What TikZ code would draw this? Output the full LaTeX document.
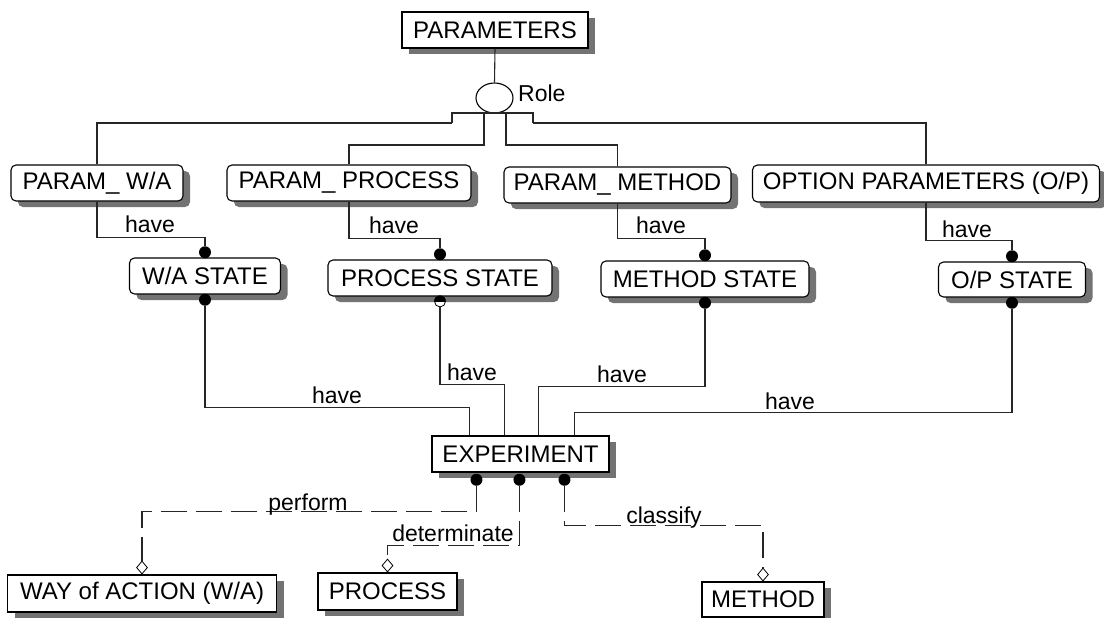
\documentclass[tikz,border=0pt]{standalone}
\usepackage{fontspec}
\setmainfont{Liberation Sans}
\usetikzlibrary{shadows,shapes.geometric,calc}
\begin{document}
\begin{tikzpicture}[x=1pt,y=-1pt,
  box/.style={draw=black, line width=1.1pt, fill=white, font=\fontsize{24}{26}\selectfont, inner sep=0pt,
    drop shadow={shadow xshift=7pt, shadow yshift=-6pt, fill=black!55, opacity=1}},
  rbox/.style={box, rounded corners=5pt},
  conn/.style={draw=black!85, line width=1.1pt},
  dashconn/.style={conn, dash pattern=on 26pt off 9pt},
  lbl/.style={font=\fontsize{23}{25}\selectfont, inner sep=0pt, anchor=base},
  dot/.style={circle, fill=black, inner sep=0pt, minimum size=12pt},
  dia/.style={diamond, draw=black, fill=white, line width=0.8pt, inner sep=0pt, minimum width=11pt, minimum height=13pt, anchor=south}
]
\useasboundingbox (0,0) rectangle (1104,618);

% boxes
\node[box, minimum width=186pt, minimum height=36pt] (params) at (495,30) {PARAMETERS};
\node[ellipse, draw=black, line width=1.1pt, fill=white, minimum width=37pt, minimum height=30pt, inner sep=0pt] (role) at (494.5,98) {};
\node[lbl, anchor=base west] (rolel) at (518,102) {Role};

\node[rbox, minimum width=172pt, minimum height=36pt] (pwa) at (97,183) {PARAM\_{} W/A};
\node[rbox, minimum width=244pt, minimum height=36pt] (pproc) at (349,183) {PARAM\_{} PROCESS};
\node[rbox, minimum width=227pt, minimum height=36pt] (pmeth) at (617.5,185) {PARAM\_{} METHOD};
\node[rbox, minimum width=347pt, minimum height=37pt] (popt) at (926,183.5) {OPTION PARAMETERS (O/P)};

\node[rbox, minimum width=151pt, minimum height=36pt] (swa) at (205,276) {W/A STATE};
\node[rbox, minimum width=224pt, minimum height=36pt] (sproc) at (440,278) {PROCESS STATE};
\node[rbox, minimum width=208pt, minimum height=36pt] (smeth) at (705,279) {METHOD STATE};
\node[rbox, minimum width=147pt, minimum height=35pt] (sopt) at (1012,279.5) {O/P STATE};

\node[box, minimum width=177pt, minimum height=36pt] (exp) at (520.5,454) {EXPERIMENT};

\node[box, minimum width=269pt, minimum height=37pt] (way) at (142,593.5) {WAY of ACTION (W/A)};
\node[box, minimum width=139pt, minimum height=37pt] (proc) at (387.5,591.5) {PROCESS};
\node[box, minimum width=122pt, minimum height=35pt] (meth) at (763,599.5) {METHOD};

% role hierarchy
\draw[conn] (params.south) -- (role.north);
\coordinate (bl) at (452,123);
\coordinate (br) at (533,123);
\coordinate (bm1) at (484,113);
\coordinate (bm2) at (506,113);
\draw[conn] (bl) |- (bm1) -- (bm2) -| (br);
\draw[conn] (bl) -| (pwa.north);
\draw[conn] (br) -| (popt.north);
\draw[conn] (bm1) -- ++(0,32) -| (pproc.north);
\draw[conn] (bm2) -- ++(0,32) -| (pmeth.north);

% dots on state boxes
\node[dot, anchor=south] (dwa1) at ([yshift=-1pt]swa.north) {};
\node[dot, anchor=south] (dproc1) at ([yshift=-1pt]sproc.north) {};
\node[dot, anchor=south] (dmeth1) at ([yshift=-1pt]smeth.north) {};
\node[dot, anchor=south] (dopt1) at ([yshift=-1pt]sopt.north) {};
\node[dot, anchor=north] (dwa2) at ([yshift=1pt]swa.south) {};
\node[circle, draw=black, fill=white, line width=0.8pt, inner sep=0pt, minimum size=11pt, anchor=north] (dproc2) at ([yshift=1pt]sproc.south) {};
\begin{scope}
  \clip ($(dproc2.west)+(-2,0)$) rectangle ($(dproc2.north east)+(2,-2)$);
  \fill[black] (dproc2.center) circle (6pt);
\end{scope}
\node[dot, anchor=north] (dmeth2) at ([yshift=1pt]smeth.south) {};
\node[dot, anchor=north] (dopt2) at ([yshift=1pt]sopt.south) {};

% param -> state
\draw[conn] (pwa.south) -- ++(0,36) -| (dwa1);
\draw[conn] (pproc.south) -- ++(0,37) -| (dproc1);
\draw[conn] (pmeth.south) -- ++(0,35) -| (dmeth1);
\draw[conn] (popt.south) -- ++(0,38) -| (dopt1);
\node[lbl] (h1) at (150,232) {have};
\node[lbl] (h2) at (394,233) {have};
\node[lbl] (h3) at (661,233) {have};
\node[lbl] (h4) at (967,237) {have};

% state -> experiment
\coordinate (e1) at ($(exp.north west)+(38,0)$);
\coordinate (e2) at ($(exp.north west)+(73,0)$);
\coordinate (e3) at ($(exp.north west)+(107,0)$);
\coordinate (e4) at ($(exp.north west)+(143,0)$);
\draw[conn] (dwa2) |- ($(e1)+(0,-28)$) -- (e1);
\draw[conn] (dproc2) |- ($(e2)+(0,-51)$) -- (e2);
\draw[conn] (dmeth2) |- ($(e3)+(0,-49)$) -- (e3);
\draw[conn] (dopt2) |- ($(e4)+(0,-23)$) -- (e4);
\node[lbl] (h5) at (337,403) {have};
\node[lbl] (h6) at (472,380) {have};
\node[lbl] (h7) at (622,382) {have};
\node[lbl] (h8) at (790,409) {have};

% experiment -> bottom
\node[dot, anchor=north] (de1) at ($(exp.south west)+(45,1)$) {};
\node[dot, anchor=north] (de2) at ($(exp.south west)+(88,1)$) {};
\node[dot, anchor=north] (de3) at ($(exp.south west)+(133,1)$) {};
\node[dia] (d1) at (way.north) {};
\node[dia] (d2) at (proc.north) {};
\node[dia] (d3) at (meth.north) {};
\draw[dashconn] (de1) |- ($(d1.north)+(0,-49)$) -- (d1.north);
\draw[dashconn] (de2) |- ($(d2.north)+(0,-13)$) -- (d2.north);
\draw[dashconn] (de3) |- ($(d3.north)+(0,-42)$) -- (d3.north);
\node[lbl] (lp) at (308,510) {perform};
\node[lbl] (ld) at (453,541) {determinate};
\node[lbl] (lc) at (664,523) {classify};
\end{tikzpicture}
\end{document}
